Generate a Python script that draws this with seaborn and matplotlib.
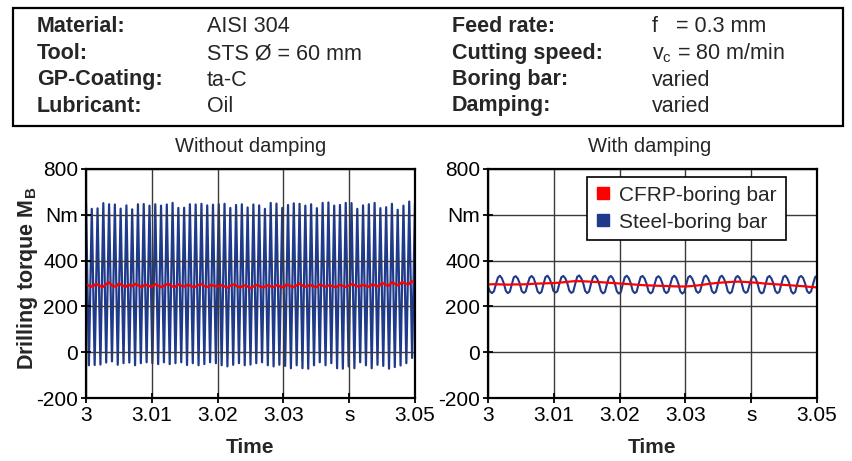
import numpy as np
import pandas as pd
import matplotlib
matplotlib.use("Agg")
import matplotlib.pyplot as plt
import seaborn as sns
from matplotlib.lines import Line2D
from matplotlib.patches import Rectangle

# ---------------- data ----------------
x_ticks = [3.00, 3.01, 3.02, 3.03, 3.04, 3.05]
x_tick_labels = ["3", "3.01", "3.02", "3.03", "s", "3.05"]
y_ticks = [-200, 0, 200, 400, 600, 800]
y_tick_labels = ["-200", "0", "200", "400", "Nm", "800"]

# Without damping, steel boring bar: successive maxima / minima of the vibration
steel_nodamp_peaks = [
    650, 626, 628, 651, 646, 645, 627, 641, 624, 646,
    647, 640, 646, 640, 645, 652, 630, 631, 646, 645,
    648, 641, 644, 646, 648, 630, 643, 646, 632, 645,
    641, 626, 652, 649, 630, 643, 650, 648, 640, 646,
    629, 652, 654, 640, 643, 652, 651, 626, 641, 646,
    652, 629, 633, 648, 622, 640, 658, 652]
steel_nodamp_troughs = [
    -57, -56, -54, -45, -40, -55, -48, -45, -57, -48,
    -44, -48, -52, -44, -52, -48, -44, -56, -48, -57,
    -52, -44, -48, -57, -62, -55, -48, -57, -54, -48,
    -44, -57, -62, -55, -60, -70, -57, -70, -72, -57,
    -44, -57, -48, -70, -72, -62, -70, -44, -57, -70,
    -55, -60, -72, -65, -58, -48, -25]

# Without damping, CFRP boring bar (samples every 0.5 ms)
cfrp_nodamp = [
    295, 290, 286, 298, 292, 284, 296, 305, 290, 286,
    300, 292, 285, 295, 288, 298, 291, 284, 296, 290,
    286, 297, 290, 284, 293, 299, 288, 285, 296, 290,
    287, 295, 288, 284, 292, 298, 289, 285, 294, 290,
    286, 293, 288, 282, 291, 296, 287, 284, 292, 288,
    280, 288, 294, 286, 283, 292, 288, 284, 293, 287,
    283, 296, 290, 284, 292, 300, 289, 285, 294, 289,
    284, 295, 290, 286, 293, 288, 283, 294, 290, 285,
    292, 298, 290, 286, 294, 290, 286, 296, 291, 287,
    303, 295, 290, 305, 298, 292, 306, 300, 296, 310,
    305]

# With damping, steel boring bar (167 evenly spaced samples)
steel_damp = [
    285, 265, 258, 266,
    297, 326, 334, 323, 300, 268, 258, 264,
    296, 327, 332, 322, 301, 267, 259, 265,
    298, 325, 333, 324, 299, 266, 257, 263,
    297, 328, 334, 322, 300, 268, 260, 266,
    299, 327, 333, 323, 302, 269, 259, 264,
    298, 329, 335, 324, 303, 268, 258, 265,
    300, 328, 334, 322, 301, 267, 257, 263,
    297, 326, 333, 323, 300, 266, 256, 262,
    296, 327, 334, 324, 302, 268, 258, 264,
    298, 328, 333, 322, 299, 266, 257, 263,
    295, 325, 332, 323, 300, 267, 258, 265,
    297, 326, 334, 324, 301, 266, 256, 262,
    296, 327, 333, 322, 300, 268, 259, 266,
    299, 328, 335, 323, 302, 267, 258, 264,
    298, 327, 334, 322, 300, 266, 257, 263,
    297, 326, 333, 324, 301, 268, 259, 265,
    296, 325, 332, 323, 299, 266, 257, 262,
    295, 326, 333, 322, 300, 267, 258, 264,
    297, 328, 334, 323, 301, 266, 256, 263,
    298, 327, 333, 324, 300, 267, 258, 265,
    297, 327, 334]

# With damping, CFRP boring bar (samples every 1 ms)
cfrp_damp = [
    296, 297, 296, 295, 296, 296, 297, 299, 300, 301,
    302, 304, 307, 310, 310, 309, 307, 306, 304, 302,
    300, 298, 296, 294, 292, 291, 290, 289, 288, 287,
    287, 289, 292, 296, 300, 303, 305, 307, 308, 307,
    305, 303, 300, 298, 296, 294, 292, 290, 288, 285,
    283]

t_start, t_end = 3.0, 3.05

# ---------------- tables ----------------
steel_nd_vals = np.empty(len(steel_nodamp_peaks) + len(steel_nodamp_troughs))
steel_nd_vals[0::2] = steel_nodamp_peaks
steel_nd_vals[1::2] = steel_nodamp_troughs
df_steel_nd = pd.DataFrame({"time": np.linspace(t_start, t_end, len(steel_nd_vals)),
                            "torque": steel_nd_vals})
df_cfrp_nd = pd.DataFrame({"time": np.linspace(t_start, t_end, len(cfrp_nodamp)),
                           "torque": cfrp_nodamp})
df_steel_d = pd.DataFrame({"time": np.linspace(t_start, t_end, len(steel_damp)),
                           "torque": steel_damp})
df_cfrp_d = pd.DataFrame({"time": np.linspace(t_start, t_end, len(cfrp_damp)),
                          "torque": cfrp_damp})

# ---------------- style ----------------
sns.set_theme(style="white")
plt.rcParams["font.family"] = ["Liberation Sans", "DejaVu Sans"]
plt.rcParams["mathtext.fontset"] = "custom"
plt.rcParams["mathtext.rm"] = "Liberation Sans"
plt.rcParams["mathtext.it"] = "Liberation Sans:italic"
plt.rcParams["mathtext.bf"] = "Liberation Sans:bold"

NAVY = "#1f3a8a"
RED = "#ff0000"
W, H = 853, 461

fig = plt.figure(figsize=(W / 100, H / 100), dpi=100)
fig.patch.set_facecolor("white")

def px_axes(x0, y0, x1, y1):
    return fig.add_axes([x0 / W, 1 - y1 / H, (x1 - x0) / W, (y1 - y0) / H])

ax1 = px_axes(86, 169, 415, 398)
ax2 = px_axes(488, 169, 817, 398)

sns.lineplot(data=df_steel_nd, x="time", y="torque", ax=ax1, color=NAVY,
             lw=1.6, estimator=None, sort=False, zorder=2)
sns.lineplot(data=df_cfrp_nd, x="time", y="torque", ax=ax1, color=RED,
             lw=1.7, estimator=None, sort=False, zorder=4)
sns.lineplot(data=df_steel_d, x="time", y="torque", ax=ax2, color=NAVY,
             lw=1.5, estimator=None, sort=False, zorder=2)
sns.lineplot(data=df_cfrp_d, x="time", y="torque", ax=ax2, color=RED,
             lw=1.6, estimator=None, sort=False, zorder=4)

for ax in (ax1, ax2):
    ax.set_xlim(t_start, t_end)
    ax.set_ylim(-200, 800)
    ax.set_xticks(x_ticks)
    ax.set_xticklabels(x_tick_labels)
    ax.set_yticks(y_ticks)
    ax.set_yticklabels(y_tick_labels)
    ax.set_xlabel("")
    ax.set_ylabel("")
    ax.set_axisbelow(False)
    ax.grid(True, color="#3a3a3a", lw=1.0, zorder=3)
    ax.tick_params(direction="inout", length=7, width=1.3, labelsize=15,
                   colors="black", bottom=True, left=True, pad=2)
    for s in ax.spines.values():
        s.set_visible(True)
        s.set_color("black")
        s.set_linewidth(1.6)
        s.set_zorder(5)

# titles and axis labels
fig.text(250.5 / W, 1 - 147 / H, "Without damping", ha="center", va="center", fontsize=14.5)
fig.text(650 / W, 1 - 147 / H, "With damping", ha="center", va="center", fontsize=14.5)
fig.text(250.5 / W, 1 - 447 / H, "Time", ha="center", va="center", fontsize=15, fontweight="bold")
fig.text(652.5 / W, 1 - 447 / H, "Time", ha="center", va="center", fontsize=15, fontweight="bold")
fig.text(28 / W, 1 - 278 / H, r"Drilling torque M$_\mathbf{B}$", ha="center", va="center",
         rotation=90, fontsize=15.5, fontweight="bold")

# legend
handles = [Line2D([], [], marker="s", ls="none", color=RED, markersize=8.5),
           Line2D([], [], marker="s", ls="none", color=NAVY, markersize=8.5)]
leg = ax2.legend(handles, ["CFRP-boring bar", "Steel-boring bar"], loc="upper left",
                 bbox_to_anchor=(0.30, 0.965), borderaxespad=0, fontsize=15,
                 frameon=True, fancybox=False, framealpha=1, edgecolor="black",
                 handlelength=0.7, handletextpad=0.45, borderpad=0.42, labelspacing=0.38)
leg.get_frame().set_linewidth(1.2)
leg.set_zorder(10)

# header box
fig.add_artist(Rectangle((12.7 / W, 1 - 126 / H), 830 / W, (126 - 8) / H,
                         transform=fig.transFigure, fill=False, edgecolor="black", lw=1.6))
rows_y = [27, 53.5, 80, 106]
left_labels = ["Material:", "Tool:", "GP-Coating:", "Lubricant:"]
left_values = ["AISI 304", "STS Ø = 60 mm", "ta-C", "Oil"]
right_labels = ["Feed rate:", "Cutting speed:", "Boring bar:", "Damping:"]
right_values = ["f   = 0.3 mm", r"v$_\mathrm{c}$ = 80 m/min", "varied", "varied"]
for y, a, b, c, d in zip(rows_y, left_labels, left_values, right_labels, right_values):
    yy = 1 - y / H
    fig.text(37 / W, yy, a, ha="left", va="center", fontsize=15.5, fontweight="bold")
    fig.text(207 / W, yy, b, ha="left", va="center", fontsize=15.5)
    fig.text(452 / W, yy, c, ha="left", va="center", fontsize=15.5, fontweight="bold")
    fig.text(652 / W, yy, d, ha="left", va="center", fontsize=15.5)

fig.savefig("out.png", dpi=100, facecolor="white")
